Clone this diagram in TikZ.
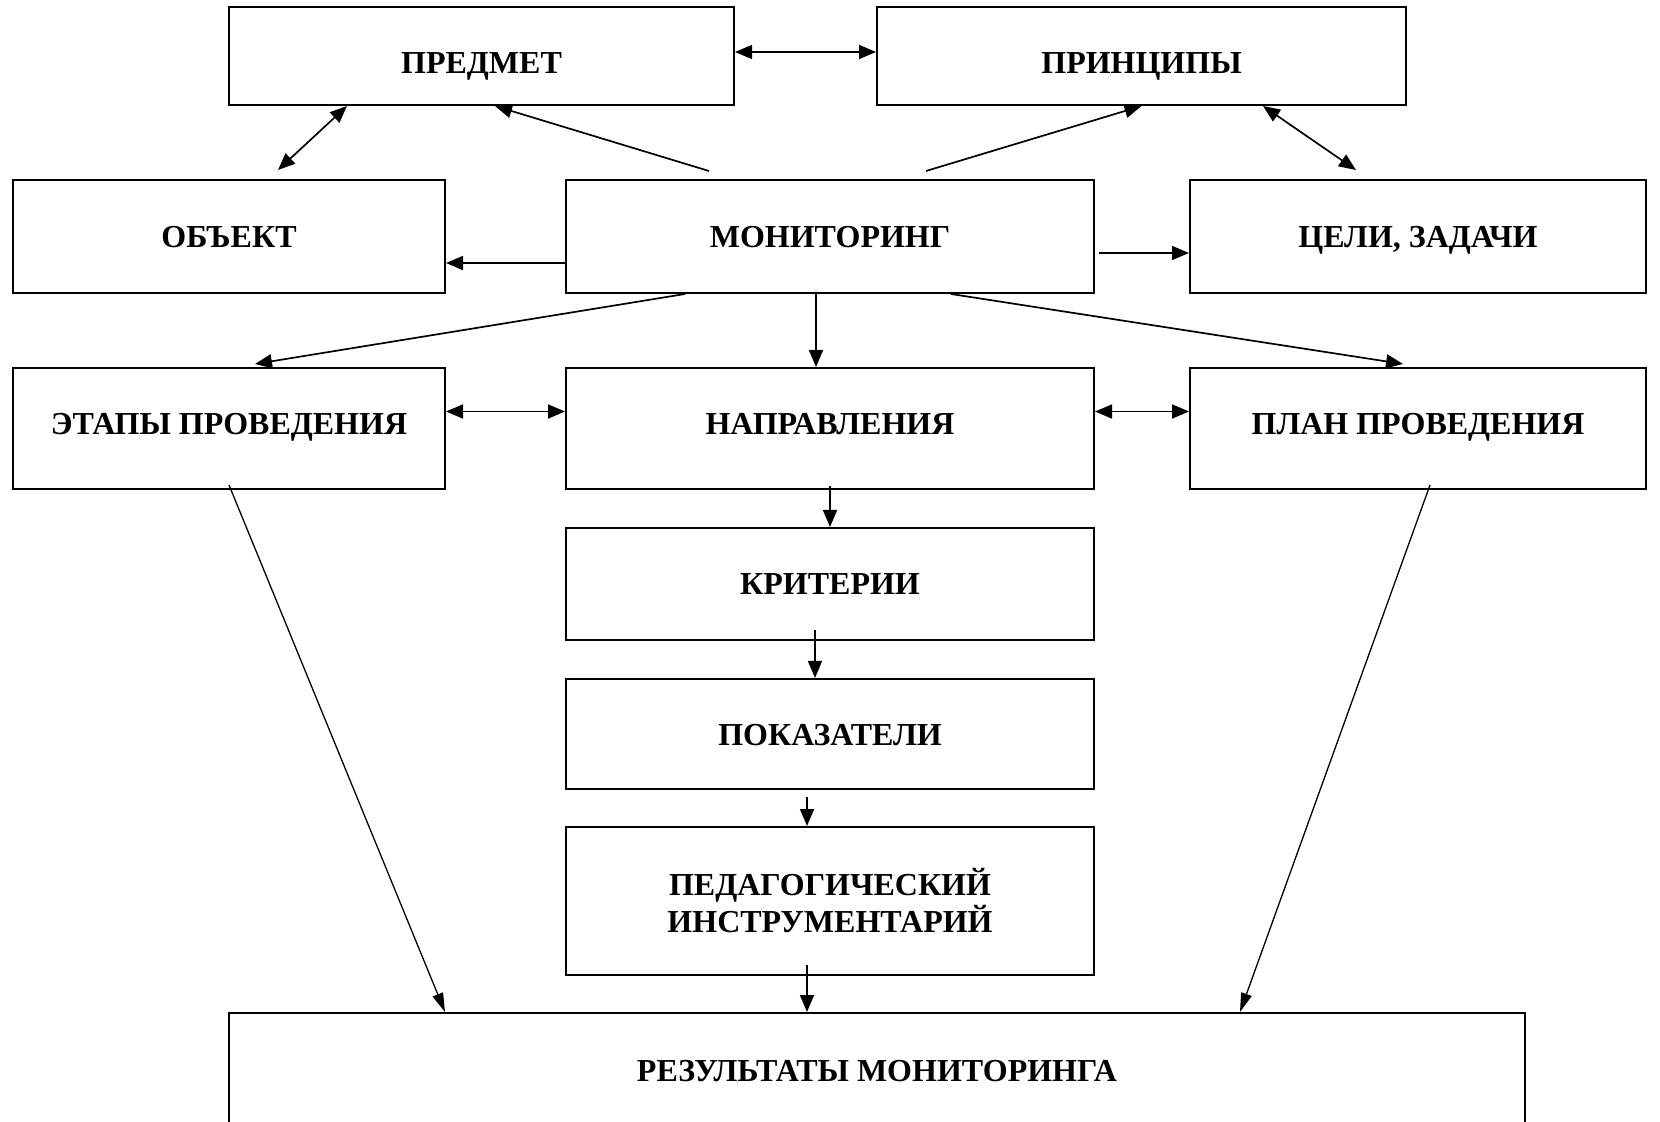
\documentclass[tikz,border=0pt]{standalone}
\usepackage{fontspec}
\setmainfont{Liberation Serif}
\usetikzlibrary{arrows.meta,calc}
\begin{document}
\begin{tikzpicture}[x=0.5pt,y=-0.5pt,line width=1pt,
    box/.style={draw,rectangle,inner sep=0pt,align=center,
      font=\fontsize{16}{18.5}\selectfont\bfseries},
    caps/.style={text height=#1,text depth=0pt},
    arr/.style={-{Triangle[length=8.5pt,width=7pt]},line width=0.85pt},
    darr/.style={{Triangle[length=8.5pt,width=7pt]}-{Triangle[length=8.5pt,width=7pt]},line width=0.85pt},
    longarr/.style={-{Triangle[length=9.5pt,width=5.5pt]},line width=0.65pt}]
      \useasboundingbox (0,0) rectangle (1660,1122);
      \node[box,caps=18pt,minimum width=252.5pt,minimum height=49pt] (predmet) at (481.5,56) {ПРЕДМЕТ};
      \node[box,caps=18pt,minimum width=264.5pt,minimum height=49pt] (princ) at (1141.5,56) {ПРИНЦИПЫ};
      \node[box,caps=11pt,minimum width=216pt,minimum height=56.5pt] (obj) at (229,236.5) {ОБЪЕКТ};
      \node[box,caps=11pt,minimum width=264pt,minimum height=56.5pt] (monit) at (830,236.5) {МОНИТОРИНГ};
      \node[box,caps=11pt,minimum width=228pt,minimum height=56.5pt] (celi) at (1418,236.5) {ЦЕЛИ, ЗАДАЧИ};
      \node[box,caps=6pt,minimum width=216pt,minimum height=60.5pt] (etapy) at (229,428.5) {ЭТАПЫ ПРОВЕДЕНИЯ};
      \node[box,caps=6pt,minimum width=264pt,minimum height=60.5pt] (napr) at (830,428.5) {НАПРАВЛЕНИЯ};
      \node[box,caps=6pt,minimum width=228pt,minimum height=60.5pt] (plan) at (1418,428.5) {ПЛАН ПРОВЕДЕНИЯ};
      \node[box,caps=11pt,minimum width=264pt,minimum height=56pt] (krit) at (830,584) {КРИТЕРИИ};
      \node[box,caps=11pt,minimum width=264pt,minimum height=55pt] (pokaz) at (830,734) {ПОКАЗАТЕЛИ};
      \node[box,minimum width=264pt,minimum height=74pt] (instr) at (830,901) {ПЕДАГОГИЧЕСКИЙ\\ИНСТРУМЕНТАРИЙ};
      \node[box,caps=11pt,minimum width=648pt,minimum height=57pt] (rez) at (877,1070) {РЕЗУЛЬТАТЫ МОНИТОРИНГА};
      \draw[darr] ($(predmet.east)+(0,-4)$) -- ($(princ.west)+(0,-4)$);
      \draw[darr] ($(predmet.south)+(-134.5,0)$) -- ($(obj.north)+(49,-9)$);
      \draw[arr] ($(monit.north)+(-121,-8)$) -- ($(predmet.south)+(13.5,0)$);
      \draw[arr] ($(monit.north)+(96,-8)$) -- (princ.south);
      \draw[darr] ($(princ.south)+(121.5,0)$) -- ($(celi.north)+(-62,-9)$);
      \draw[arr] ($(monit.west)+(0,26.5)$) -- ($(obj.east)+(0,26.5)$);
      \draw[arr] ($(monit.east)+(4,16.5)$) -- ($(celi.west)+(0,16.5)$);
      \draw[arr] ($(monit.south)+(-145,0)$) -- ($(etapy.north)+(26,-3)$);
      \draw[arr] ($(monit.south)+(-14,0)$) -- ($(napr.north)+(-14,0)$);
      \draw[arr] ($(monit.south)+(121,0)$) -- ($(plan.north)+(-15,-3)$);
      \draw[darr] ($(etapy.east)+(0,-17)$) -- ($(napr.west)+(0,-17)$);
      \draw[darr] ($(napr.east)+(0,-17)$) -- ($(plan.west)+(0,-17)$);
      \draw[arr] ($(napr.south)+(0,-4)$) -- (krit.north);
      \draw[arr] ($(krit.south)+(-15,-11)$) -- ($(pokaz.north)+(-15,0)$);
      \draw[arr] ($(pokaz.south)+(-23,7)$) -- ($(instr.north)+(-23,0)$);
      \draw[arr] ($(instr.south)+(-23,-11)$) -- ($(rez.north)+(-70,0)$);
      \draw[longarr] ($(etapy.south)+(0,-5)$) -- ($(rez.north)+(-432,0)$);
      \draw[longarr] ($(plan.south)+(12,-5)$) -- ($(rez.north)+(363,0)$);
    \end{tikzpicture}
\end{document}
